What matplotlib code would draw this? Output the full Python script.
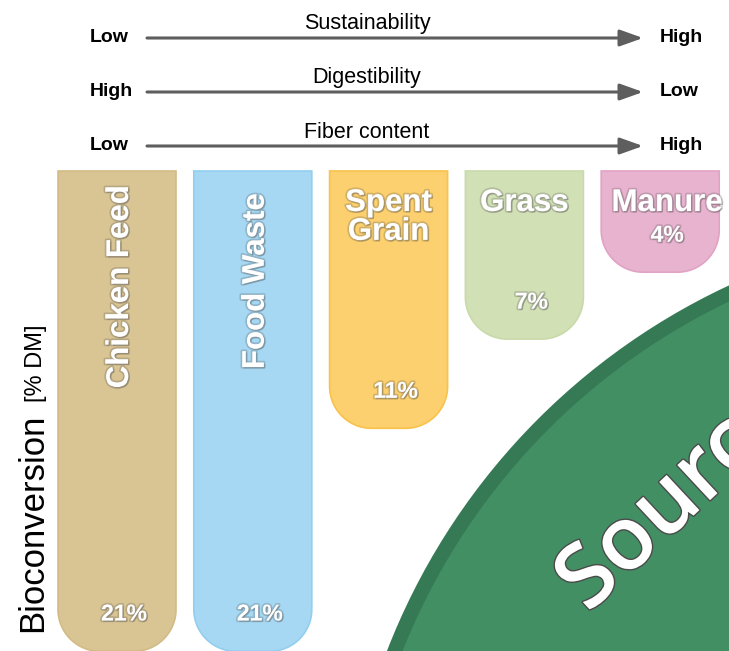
import numpy as np
import matplotlib.pyplot as plt
import matplotlib.patheffects as pe
from matplotlib.patches import Polygon, Circle

plt.rcParams['font.family'] = ['Liberation Sans', 'DejaVu Sans']

# data
feedstocks = ["Chicken Feed", "Food Waste", "Spent\nGrain", "Grass", "Manure"]
bioconversion = [21, 21, 11, 7, 4]  # % DM
vertical_label = [True, True, False, False, False]
bar_colors = ["#D9C494", "#A6D8F3", "#FCD06E", "#D2E0B6", "#E8B3CF"]
edge_colors = ["#D2BB86", "#93CEEF", "#F9C24A", "#C9DAA9", "#E2A2C4"]

gradients = [
    ("Low", "Sustainability", "High"),
    ("High", "Digestibility", "Low"),
    ("Low", "Fiber content", "High"),
]

# layout (pixel space, y grows downward)
W, H = 729, 651
BAR_TOP = 171
BAR_X0 = 117
BAR_STEP = 135.8
BAR_W = 118
CORNER = 42
PX_PER_PCT = 22.3
BAR_PAD = 12

# soft halo + offset shadow for the white labels
shadow = [pe.Stroke(linewidth=2.5, foreground=(0.25, 0.25, 0.25, 0.22)),
          pe.SimplePatchShadow(offset=(1.0, -1.0), shadow_rgbFace="#555555", alpha=0.3),
          pe.Normal()]


def hanging_bar(ax, xc, length, fc, ec):
    x0, x1 = xc - BAR_W / 2, xc + BAR_W / 2
    y1 = BAR_TOP + length
    r = min(CORNER, length)
    t = np.linspace(0, np.pi / 2, 30)
    right = np.column_stack([x1 - r + r * np.cos(t), y1 - r + r * np.sin(t)])
    left = np.column_stack([x0 + r - r * np.sin(t), y1 - r + r * np.cos(t)])
    verts = np.vstack([[[x0, BAR_TOP], [x1, BAR_TOP]], right, left])
    ax.add_patch(Polygon(verts, closed=True, fc=fc, ec=ec, lw=1.2, zorder=2))
    return y1


fig = plt.figure(figsize=(W / 100, H / 100), dpi=100)
ax = fig.add_axes([0, 0, 1, 1])
ax.set_xlim(0, W)
ax.set_ylim(H, 0)
ax.axis("off")

# gradient arrows
for i, (lo, title, hi) in enumerate(gradients):
    y = 38 + i * 54
    ax.annotate("", xy=(643, y), xytext=(147, y),
                arrowprops=dict(arrowstyle="-|>,head_length=1.4,head_width=0.5",
                                color="#5E5E5E", lw=2.2, shrinkA=0, shrinkB=0))
    ax.text(90, y, lo, ha="left", va="center", fontsize=14, fontweight="bold")
    ax.text(660, y, hi, ha="left", va="center", fontsize=14, fontweight="bold")
    ax.text(367, y - 14, title, ha="center", va="center", fontsize=15.5)

# hanging bars
for i, (name, val) in enumerate(zip(feedstocks, bioconversion)):
    xc = BAR_X0 + i * BAR_STEP
    bottom = hanging_bar(ax, xc, val * PX_PER_PCT + BAR_PAD, bar_colors[i], edge_colors[i])
    if vertical_label[i]:
        ax.text(xc + 3, 185 + (8 if i == 1 else 0), name, rotation=90, ha="center", va="top",
                fontsize=22.5, fontweight="bold", color="white", path_effects=shadow, zorder=3)
    else:
        ax.text(xc + (7 if i == 4 else 0), 188, name, ha="center", va="top", linespacing=0.95,
                fontsize=22.5, fontweight="bold", color="white", path_effects=shadow, zorder=3)
    ax.text(xc + 7, min(bottom, H) - 37, f"{val}%", ha="center", va="center",
            fontsize=16.5, fontweight="bold", color="white", path_effects=shadow, zorder=3)

# y label
ax.text(33, 632, "Bioconversion", rotation=90, ha="center", va="bottom", fontsize=25)
ax.text(36, 402, "[% DM]", rotation=90, ha="center", va="bottom", fontsize=17)

# source circle (extends past the canvas, as in the original)
ax.add_patch(Circle((1012, 893), 663, fc="#418F63", ec="#357A55", lw=10.5, zorder=1))
ax.text(588, 614, "Source", rotation=43, rotation_mode="anchor", ha="left", va="baseline",
        fontsize=64, fontweight="semibold", family=["Open Sans", "DejaVu Sans"], color="white",
        path_effects=[pe.Stroke(linewidth=2, foreground="#4A4A4A"), pe.Normal()], zorder=3)

fig.savefig("out.png", dpi=100)
